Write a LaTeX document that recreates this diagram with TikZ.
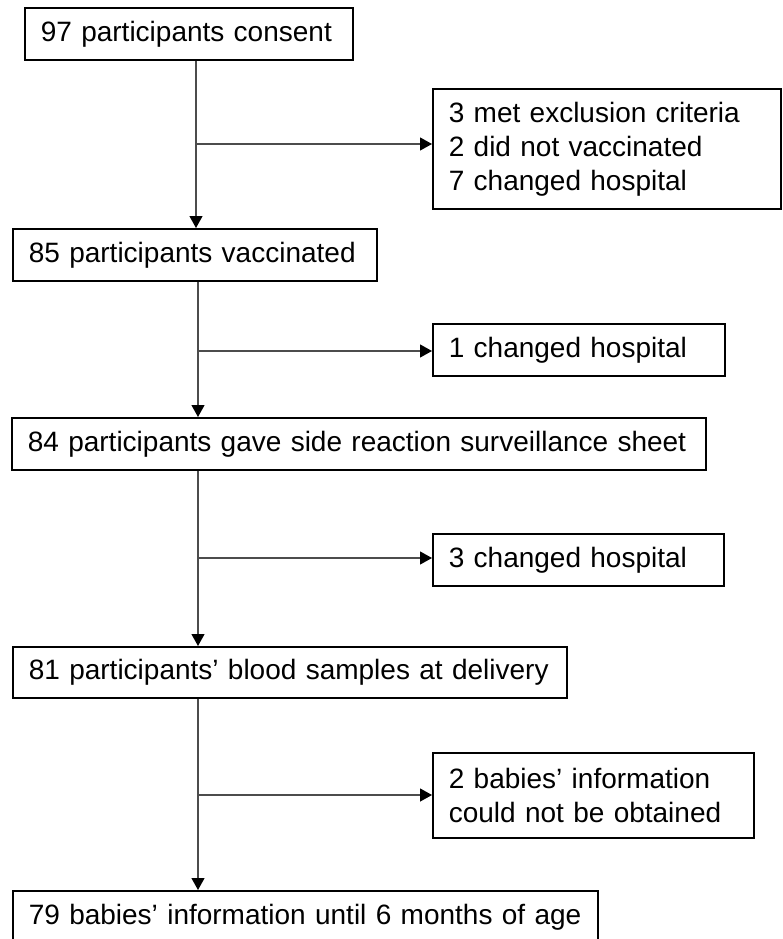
\documentclass[tikz,border=0pt]{standalone}
\usepackage{fontspec}
\setmainfont{Liberation Sans}
\usetikzlibrary{arrows.meta}

\tikzset{
  flowbox/.style={draw, line width=1.6pt, anchor=north west, inner xsep=16pt,
    inner ysep=0pt, align=left, font=\fontsize{28}{34}\selectfont},
  flowline/.style={draw=black!70, line width=1.2pt,
    -{Triangle[length=12pt,width=13pt,color=black]}},
}

\begin{document}
\begin{tikzpicture}[x=1pt,y=-1pt,line join=miter]
\useasboundingbox (0,0) rectangle (782,939);

% main column (top left corners)
\node[flowbox, text width=296pt, minimum height=52pt] (consent) at (24,7) {97 participants consent};
\node[flowbox, text width=332pt, minimum height=52pt] (vacc) at (12,228) {85 participants vaccinated};
\node[flowbox, text width=662pt, minimum height=52pt] (sheet) at (11,417) {84 participants gave side reaction surveillance sheet};
\node[flowbox, text width=522pt, minimum height=51pt] (blood) at (12,646) {81 participants’ blood samples at delivery};
\node[flowbox, text width=553pt, minimum height=52pt] (babies) at (12,890) {79 babies’ information until 6 months of age};

% side boxes
\node[flowbox, text width=316pt, minimum height=120pt] (excl) at (432,88) {3 met exclusion criteria\\2 did not vaccinated\\7 changed hospital};
\node[flowbox, text width=260pt, minimum height=52pt] (hosp1) at (432,323) {1 changed hospital};
\node[flowbox, text width=259pt, minimum height=52pt] (hosp3) at (432,533) {3 changed hospital};
\node[flowbox, text width=289pt, minimum height=85pt] (lost) at (432,752) {2 babies’ information\\could not be obtained};

% branch points on the vertical lines
\coordinate (b1) at (196,144);
\coordinate (b2) at (198,351);
\coordinate (b3) at (198,558);
\coordinate (b4) at (198,795);

% vertical arrows
\draw[flowline] (consent.south -| b1) -- (vacc.north -| b1);
\draw[flowline] (vacc.south -| b2) -- (sheet.north -| b2);
\draw[flowline] (sheet.south -| b3) -- (blood.north -| b3);
\draw[flowline] (blood.south -| b4) -- (babies.north -| b4);

% side arrows
\draw[flowline] (b1) -- (excl.west |- b1);
\draw[flowline] (b2) -- (hosp1.west |- b2);
\draw[flowline] (b3) -- (hosp3.west |- b3);
\draw[flowline] (b4) -- (lost.west |- b4);

\end{tikzpicture}
\end{document}
